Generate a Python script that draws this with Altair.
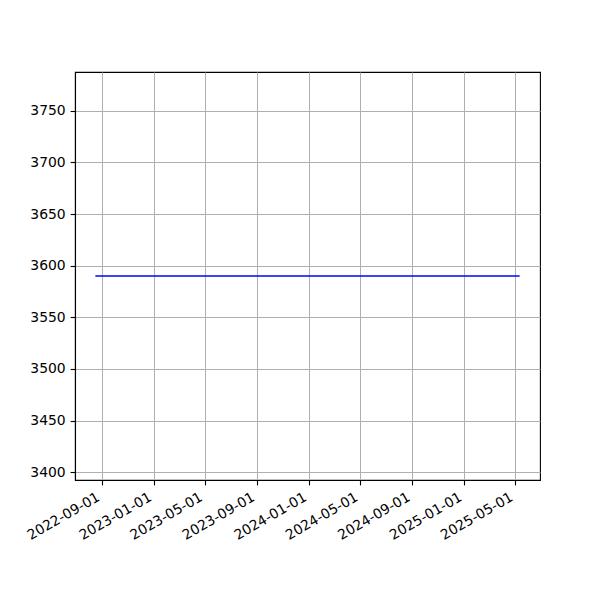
import altair as alt
import pandas as pd

dates = ["2022-08-17", "2025-05-12"]
values = [3590, 3590]

tick_dates = [(2022, 9), (2023, 1), (2023, 5), (2023, 9), (2024, 1),
              (2024, 5), (2024, 9), (2025, 1), (2025, 5)]
y_ticks = [3400, 3450, 3500, 3550, 3600, 3650, 3700, 3750]

df = pd.DataFrame({"date": dates, "value": values})

x_axis = alt.Axis(
    values=[alt.DateTime(year=y, month=m, date=1, utc=True) for y, m in tick_dates],
    format="%Y-%m-%d",
    labelAngle=-30,
    labelAlign="right",
    labelBaseline="bottom",
    labelOverlap=False,
    labelFlush=False,
    labelPadding=17,
    title=None,
)
y_axis = alt.Axis(values=y_ticks, title=None, format="d", labelOverlap=False)

chart = alt.Chart(df).mark_line(color="#0000ff", strokeWidth=1.5).encode(
    x=alt.X("date:T", axis=x_axis,
            scale=alt.Scale(type="utc",
                            domain=[alt.DateTime(year=2022, month=6, date=30, utc=True),
                                    alt.DateTime(year=2025, month=6, date=29, utc=True)])),
    y=alt.Y("value:Q", axis=y_axis,
            scale=alt.Scale(domain=[3392.55, 3787.45], nice=False, zero=False)),
).properties(
    width=465, height=408,
    autosize=alt.AutoSizeParams(type="none"),
    padding={"left": 67, "top": 64, "right": 52, "bottom": 112},
).configure_view(
    stroke="black", strokeWidth=1.1
).configure_axis(
    grid=True, gridColor="#b0b0b0", gridWidth=1.0,
    domainColor="black", domainWidth=1.1,
    tickColor="black", tickWidth=1.1, tickSize=4.9,
    labelFont="DejaVu Sans", labelFontSize=13.9, labelColor="black",
    labelPadding=4.9,
)

chart.save("out.html", embed_options={"renderer": "svg", "actions": False})
